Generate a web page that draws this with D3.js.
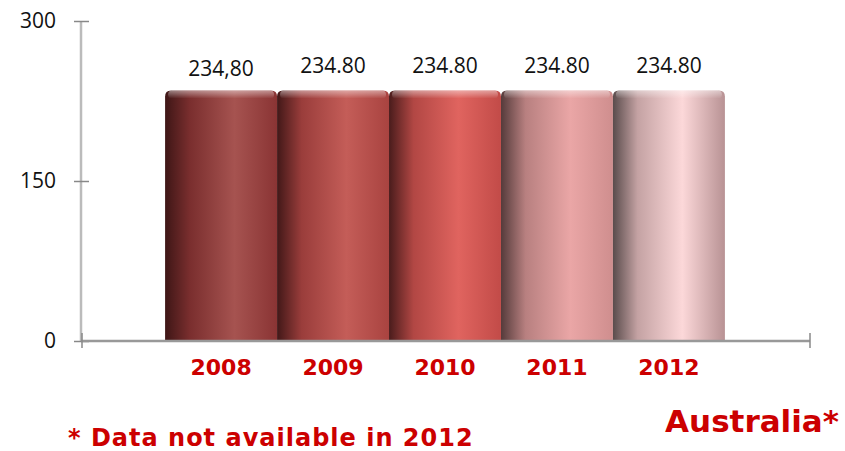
<html>
<head></head>
<body style="margin:0;background:#fff">
    <svg id="chart" width="845" height="451"></svg>
</body>
<script src="https://cdn.jsdelivr.net/npm/d3@7/dist/d3.min.js"></script>
<script>
    // data
    const years = ["2008", "2009", "2010", "2011", "2012"]
    const values = [234.8, 234.8, 234.8, 234.8, 234.8]
    const valueLabels = ["234,80", "234.80", "234.80", "234.80", "234.80"]
    const yTicks = [0, 150, 300]
    // cylinder shading per bar: dark edge, mid, highlight, right edge
    const shades = [
        ["#3e1616", "#7a2e2e", "#a65350", "#8a3434"],
        ["#421818", "#9a3d3b", "#c45d58", "#a94340"],
        ["#4a1c1c", "#b24744", "#e0645f", "#c24b48"],
        ["#553b3b", "#b88080", "#eaa6a6", "#cf8e8e"],
        ["#5a4c4c", "#c4a2a3", "#fcd8d9", "#b89294"]
    ]

    const svg = d3.select("#chart")
    const defs = svg.append("defs")
    const labelFont = "'Open Sans', sans-serif"
    const comicFont = "'Comic Sans MS', 'DejaVu Sans', sans-serif"

    const x = d3.scaleBand()
        .domain(years)
        .range([80, 810])
        .paddingInner(0)
        .paddingOuter(0.76)

    const y = d3.scaleLinear()
        .domain([0, 300])
        .range([341, 21])

    // gradients
    shades.forEach((s, i) => {
        let g = defs.append("linearGradient")
            .attr("id", "grad" + i)
            .attr("x1", "0%").attr("x2", "100%")
            .attr("y1", "0%").attr("y2", "0%")
        g.append("stop").attr("offset", "0%").attr("stop-color", s[0])
        g.append("stop").attr("offset", "22%").attr("stop-color", s[1])
        g.append("stop").attr("offset", "62%").attr("stop-color", s[2])
        g.append("stop").attr("offset", "100%").attr("stop-color", s[3])
    })
    let capGrad = defs.append("linearGradient")
        .attr("id", "cap")
        .attr("x1", "0%").attr("x2", "0%")
        .attr("y1", "0%").attr("y2", "100%")
    capGrad.append("stop").attr("offset", "0%").attr("stop-color", "#fff").attr("stop-opacity", 0.45)
    capGrad.append("stop").attr("offset", "100%").attr("stop-color", "#fff").attr("stop-opacity", 0)

    const data = years.map((d, i) => ({ year: d, value: values[i], label: valueLabels[i], i: i }))

    // bars
    const bars = svg.append("g")
    bars.selectAll("path")
        .data(data)
        .enter()
        .append("path")
        .attr("fill", d => `url(#grad${d.i})`)
        .attr("d", d => {
            let x0 = x(d.year), w = x.bandwidth(), y0 = y(d.value), y1 = y(0), r = 6
            return `M${x0},${y1} L${x0},${y0 + r} Q${x0},${y0} ${x0 + r},${y0} ` +
                `L${x0 + w - r},${y0} Q${x0 + w},${y0} ${x0 + w},${y0 + r} L${x0 + w},${y1} Z`
        })
    bars.selectAll("rect.cap")
        .data(data)
        .enter()
        .append("rect")
        .attr("class", "cap")
        .attr("x", d => x(d.year) + 3)
        .attr("y", d => y(d.value))
        .attr("width", x.bandwidth() - 6)
        .attr("height", 8)
        .attr("rx", 4)
        .attr("fill", "url(#cap)")

    // value labels
    svg.append("g").selectAll("text")
        .data(data)
        .enter()
        .append("text")
        .attr("x", d => x(d.year) + x.bandwidth() / 2)
        .attr("y", d => y(d.value) - (d.i === 0 ? 15 : 18))
        .attr("text-anchor", "middle")
        .attr("font-family", labelFont)
        .attr("font-size", 21)
        .attr("fill", "#111")
        .text(d => d.label)

    // y axis
    const yAxis = d3.axisLeft(y)
        .tickValues(yTicks)
        .tickSize(7)
        .tickPadding(18)
    const ya = svg.append("g")
        .attr("transform", "translate(81,0)")
        .call(yAxis)
    ya.select(".domain").attr("stroke", "#bbb").attr("stroke-width", 2.5)
        .attr("d", `M0,${y(300)}V${y(0)}`)
    ya.selectAll(".tick line").attr("stroke", "#888").attr("stroke-width", 1.5)
        .attr("x1", 8)
    ya.selectAll(".tick text")
        .attr("font-family", labelFont)
        .attr("font-size", 21)
        .attr("fill", "#111")

    // x axis
    const xa = svg.append("g")
        .attr("transform", `translate(0,${y(0)})`)
    xa.append("line")
        .attr("x1", 81).attr("x2", 810)
        .attr("y1", 0).attr("y2", 0)
        .attr("stroke", "#999").attr("stroke-width", 2.5)
    xa.selectAll("line.t")
        .data([82, 810])
        .enter()
        .append("line")
        .attr("class", "t")
        .attr("x1", d => d).attr("x2", d => d)
        .attr("y1", -8).attr("y2", 7)
        .attr("stroke", "#888").attr("stroke-width", 1.5)
    xa.selectAll("text")
        .data(years)
        .enter()
        .append("text")
        .attr("x", d => x(d) + x.bandwidth() / 2)
        .attr("y", 34)
        .attr("text-anchor", "middle")
        .attr("font-family", comicFont)
        .attr("font-weight", "bold")
        .attr("font-size", 22)
        .attr("fill", "#cc0000")
        .text(d => d)

    // notes
    svg.append("text")
        .attr("x", 68).attr("y", 446)
        .attr("font-family", comicFont)
        .attr("font-weight", "bold")
        .attr("font-size", 24)
        .attr("letter-spacing", 1)
        .attr("fill", "#cc0000")
        .text("* Data not available in 2012")
    svg.append("text")
        .attr("x", 839).attr("y", 432)
        .attr("text-anchor", "end")
        .attr("font-family", comicFont)
        .attr("font-weight", "bold")
        .attr("font-size", 31)
        .attr("fill", "#cc0000")
        .text("Australia*")
</script>
</html>
